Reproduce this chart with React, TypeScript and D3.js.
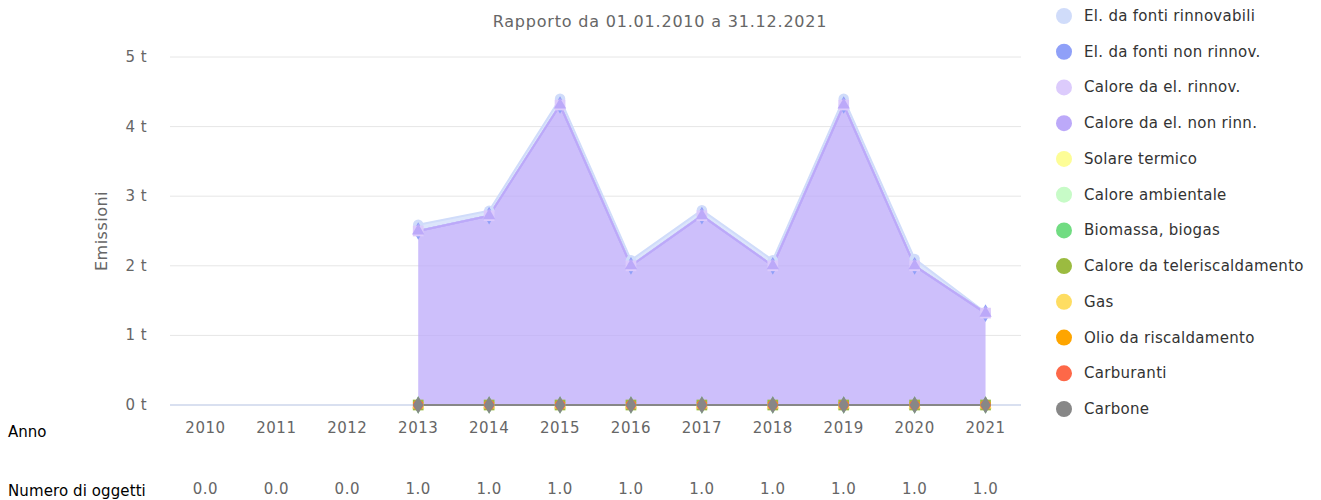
import React from 'react';
import * as d3 from 'd3';

// categories
const years = ['2010', '2011', '2012', '2013', '2014', '2015', '2016', '2017', '2018', '2019', '2020', '2021'];
const objectCounts = ['0.0', '0.0', '0.0', '1.0', '1.0', '1.0', '1.0', '1.0', '1.0', '1.0', '1.0', '1.0'];

const seriesNames = [
  'El. da fonti rinnovabili',
  'El. da fonti non rinnov.',
  'Calore da el. rinnov.',
  'Calore da el. non rinn.',
  'Solare termico',
  'Calore ambientale',
  'Biomassa, biogas',
  'Calore da teleriscaldamento',
  'Gas',
  'Olio da riscaldamento',
  'Carburanti',
  'Carbone'
];
const seriesColors = [
  '#d0dcfa', '#8fa0f8', '#dccbfc', '#bca9f9', '#fdfd96', '#c7fbc7',
  '#71dc82', '#9bbb40', '#fedd62', '#fea500', '#fd6848', '#878787'
];

// values in t, null = no data
const elRinnovabili = [null, null, null, 0.09, 0.07, 0.09, 0.08, 0.08, 0.08, 0.09, 0.1, 0.01];
const elNonRinnov = [null, null, null, 0, 0, 0, 0, 0, 0, 0, 0, 0];
const caloreElRinnov = [null, null, null, 0, 0, 0, 0, 0, 0, 0, 0, 0];
const caloreElNonRinn = [null, null, null, 2.5, 2.72, 4.31, 2.0, 2.72, 2.0, 4.31, 2.0, 1.32];
const solareTermico = [null, null, null, 0, 0, 0, 0, 0, 0, 0, 0, 0];
const caloreAmbientale = [null, null, null, 0, 0, 0, 0, 0, 0, 0, 0, 0];
const biomassa = [null, null, null, 0, 0, 0, 0, 0, 0, 0, 0, 0];
const teleriscaldamento = [null, null, null, 0, 0, 0, 0, 0, 0, 0, 0, 0];
const gas = [null, null, null, 0, 0, 0, 0, 0, 0, 0, 0, 0];
const olio = [null, null, null, 0, 0, 0, 0, 0, 0, 0, 0, 0];
const carburanti = [null, null, null, 0, 0, 0, 0, 0, 0, 0, 0, 0];
const carbone = [null, null, null, 0, 0, 0, 0, 0, 0, 0, 0, 0];

const seriesValues: (number | null)[][] = [
  elRinnovabili, elNonRinnov, caloreElRinnov, caloreElNonRinn, solareTermico, caloreAmbientale,
  biomassa, teleriscaldamento, gas, olio, carburanti, carbone
];

const yTicks = [0, 1, 2, 3, 4, 5];
const symbolCycle = [d3.symbolCircle, d3.symbolDiamond, d3.symbolSquare, d3.symbolTriangle, d3.symbolTriangle];
const symbolSizes = [85, 90, 115, 66, 50];

const FONT = '"DejaVu Sans", Verdana, sans-serif';

export default function App() {
  const left = 170, right = 1021, top = 57, bottom = 405;

  const x = d3.scaleBand().domain(years).range([left, right]);
  const cx = (yr: string) => (x(yr) as number) + x.bandwidth() / 2;
  const y = d3.scaleLinear().domain([0, 5]).range([bottom, top]);

  const rows = years.map((yr, i) => {
    const r: any = { year: yr };
    seriesNames.forEach((n, s) => { r[n] = seriesValues[s][i] ?? 0; });
    return r;
  });
  // first series stacks on top
  const stacked = d3.stack<any>().keys([...seriesNames].reverse())(rows);
  const byName: Record<string, any> = {};
  stacked.forEach((l) => { byName[l.key] = l; });

  const defined = (s: number) => (_: any, i: number) => seriesValues[s][i] !== null;

  const symbolPath = (s: number) => d3.symbol(symbolCycle[s % 5], symbolSizes[s % 5])() as string;

  return (
    <svg width={1321} height={500} style={{ position: 'absolute', left: 0, top: 0 }} fontFamily={FONT}>
      <rect width={1321} height={500} fill="#fff" />
      <text x={660} y={27} textAnchor="middle" fontSize={16} letterSpacing={0.8} fill="#666">Rapporto da 01.01.2010 a 31.12.2021</text>

      {yTicks.map((t) => (
        <g key={t}>
          <line x1={left} x2={right} y1={y(t)} y2={y(t)} stroke={t === 0 ? '#ccd6eb' : '#e6e6e6'} strokeWidth={t === 0 ? 1.5 : 1} />
          <text x={147} y={y(t) + 5} textAnchor="end" fontSize={15} letterSpacing={0.4} fill="#666">{`${t} t`}</text>
        </g>
      ))}
      <text transform={`translate(107,231) rotate(-90)`} textAnchor="middle" fontSize={16} letterSpacing={0.5} fill="#666">Emissioni</text>

      {seriesNames.map((n, s) => {
        const layer = byName[n];
        const area = d3.area<any>()
          .defined(defined(s))
          .x((_, i) => cx(years[i]))
          .y0((d) => y(d[0]))
          .y1((d) => y(d[1]));
        const line = d3.line<any>()
          .defined(defined(s))
          .x((_, i) => cx(years[i]))
          .y((d) => y(d[1]));
        return (
          <g key={n}>
            <path d={area(layer) as string} fill={seriesColors[s]} fillOpacity={0.75} />
            <path d={line(layer) as string} fill="none" stroke={seriesColors[s]} strokeWidth={2} strokeLinejoin="round" />
          </g>
        );
      })}

      {seriesNames.map((n, s) => {
        const layer = byName[n];
        const rot = s % 5 === 4 ? ' rotate(180)' : '';
        return (
          <g key={n + 'm'}>
            {layer.map((d: any, i: number) => seriesValues[s][i] === null ? null : (
              <path key={i} d={symbolPath(s)} transform={`translate(${cx(years[i])},${y(d[1])})${rot}`} fill={seriesColors[s]} />
            ))}
          </g>
        );
      })}

      {years.map((yr, i) => (
        <g key={yr}>
          <text x={cx(yr)} y={433} textAnchor="middle" fontSize={15} letterSpacing={0.5} fill="#666">{yr}</text>
          <text x={cx(yr)} y={494} textAnchor="middle" fontSize={15} letterSpacing={0.5} fill="#666">{objectCounts[i]}</text>
        </g>
      ))}
      <text x={8} y={437} fontSize={15} fill="#000">Anno</text>
      <text x={8} y={496} fontSize={15} letterSpacing={0.1} fill="#000">Numero di oggetti</text>

      {seriesNames.map((n, s) => {
        const ly = 16 + s * 35.73;
        return (
          <g key={n + 'l'}>
            <circle cx={1064} cy={ly} r={8} fill={seriesColors[s]} />
            <text x={1084} y={ly + 5} fontSize={15} letterSpacing={0.3} fill="#333">{n}</text>
          </g>
        );
      })}
    </svg>
  );
}
